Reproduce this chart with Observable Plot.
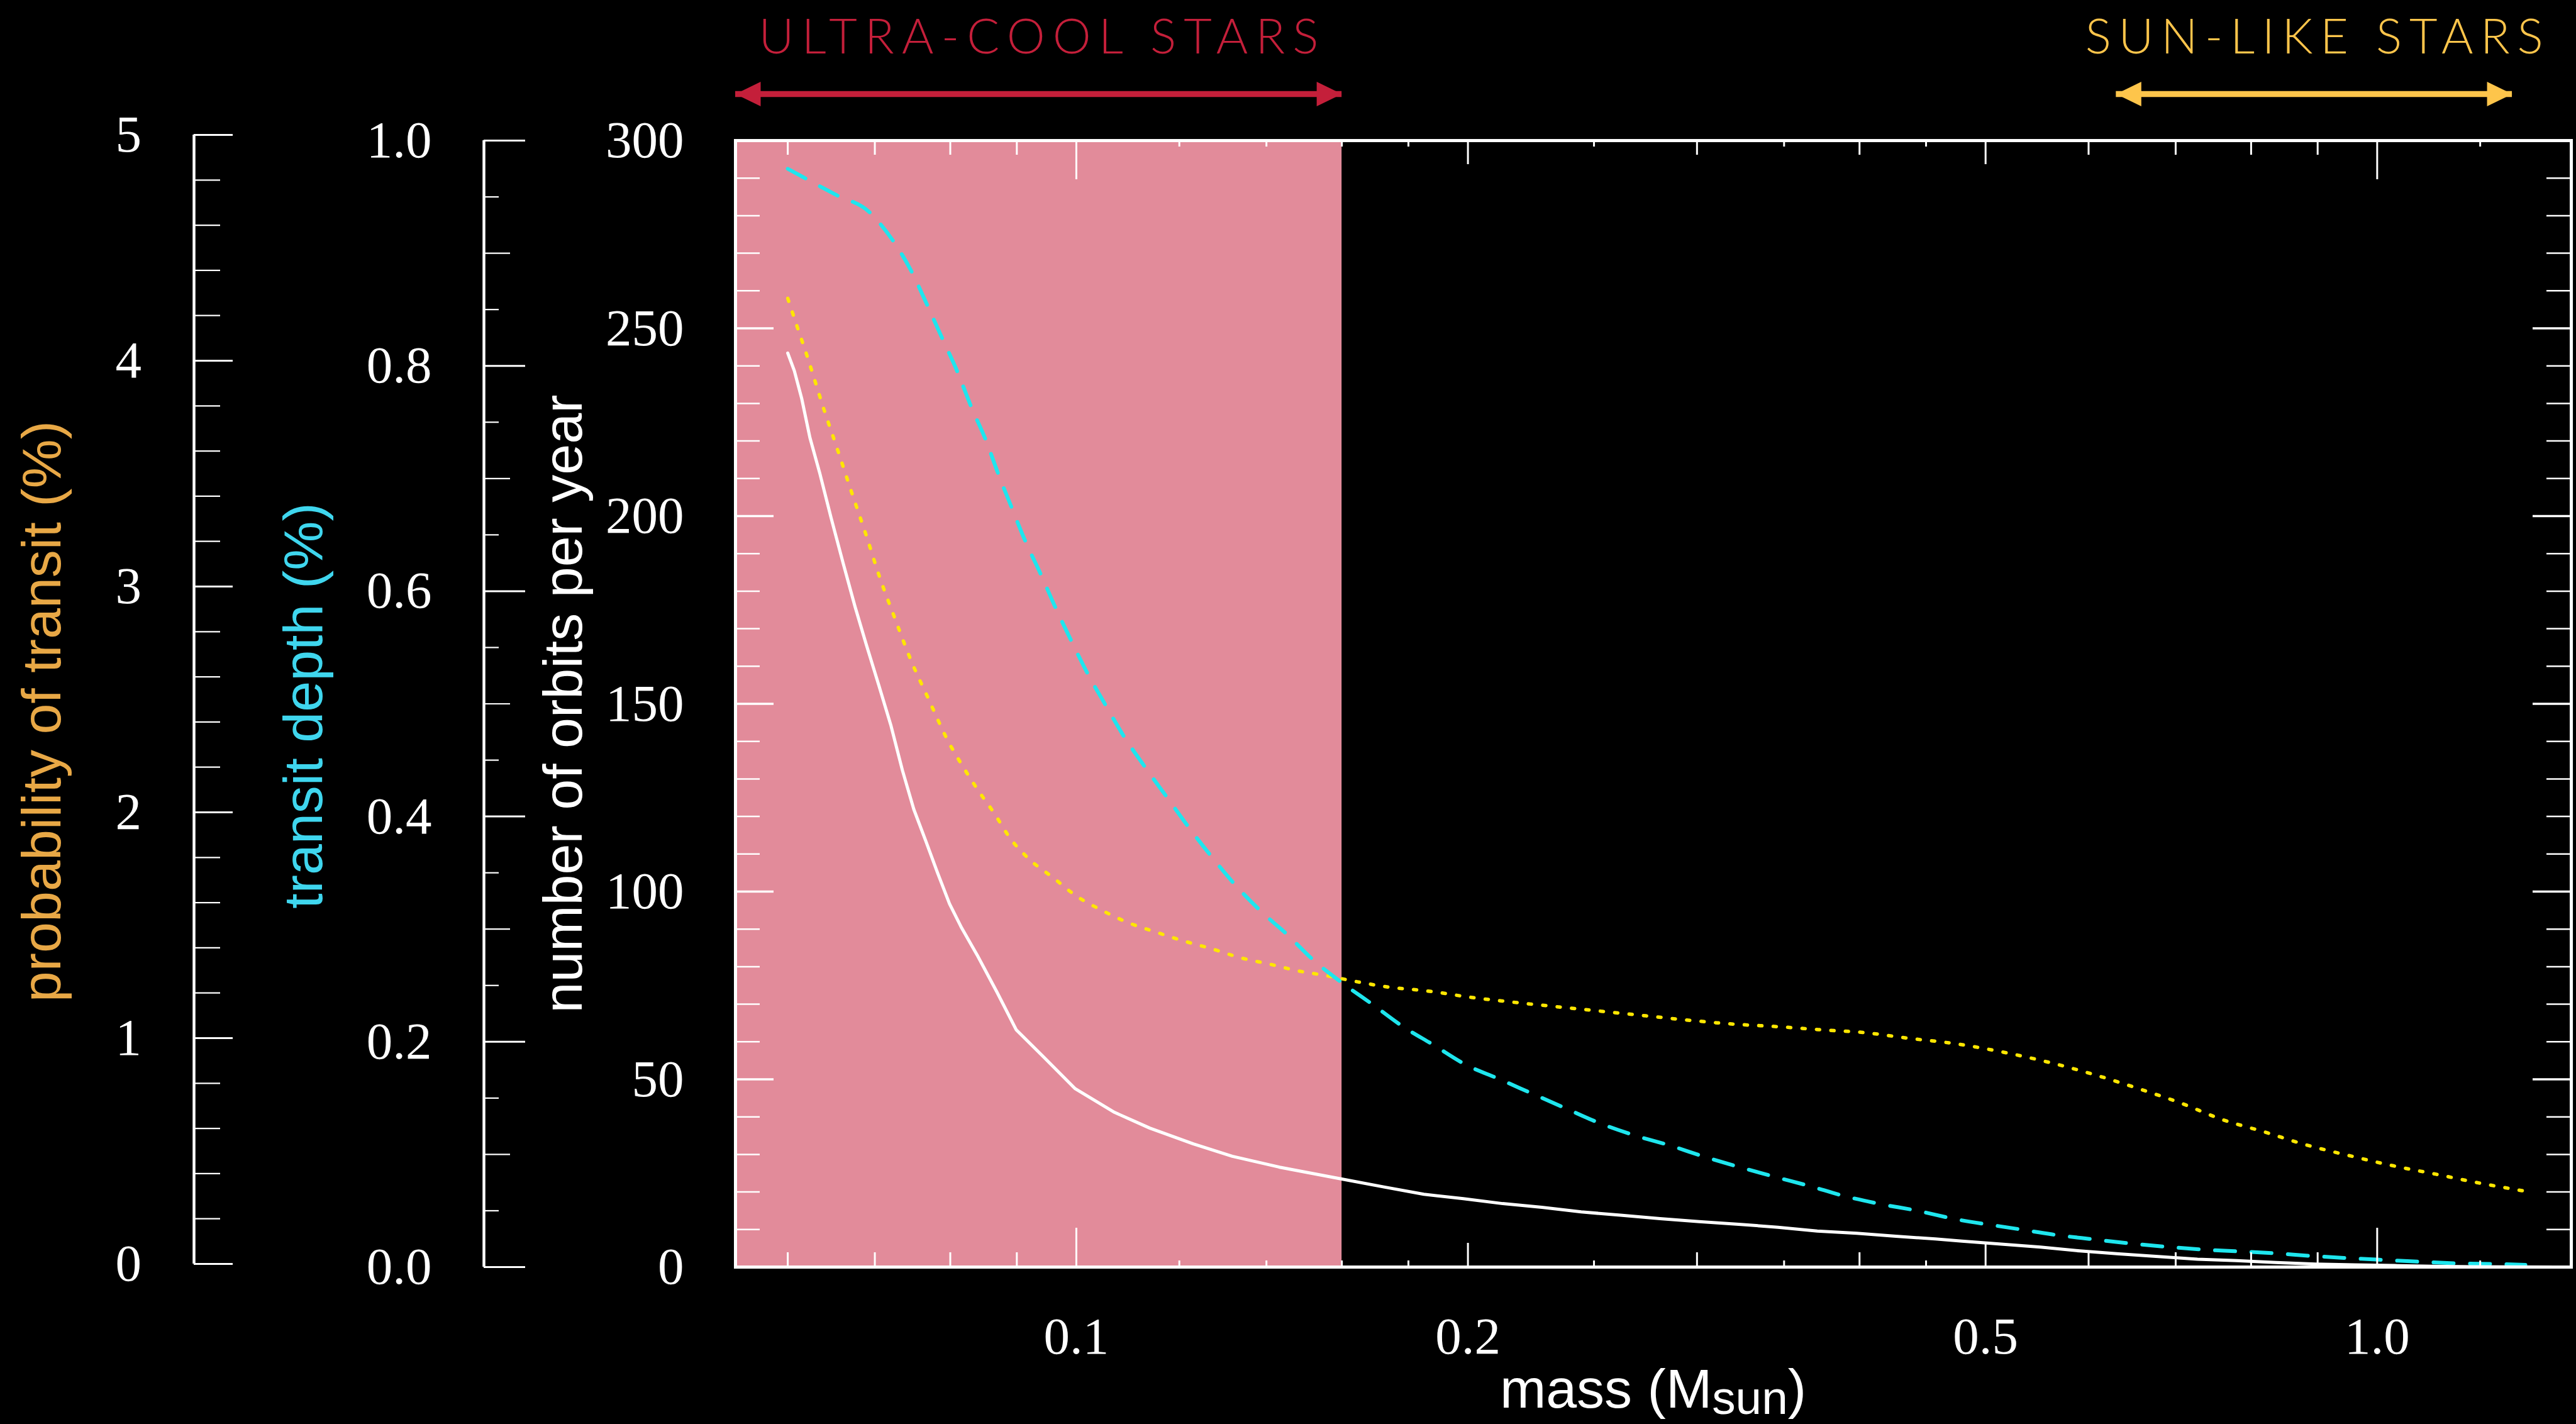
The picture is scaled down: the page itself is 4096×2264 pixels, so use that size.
<!DOCTYPE html>
<html>
<head>
<meta charset="utf-8">
<script src="https://cdn.jsdelivr.net/npm/d3@7"></script>
<script src="https://cdn.jsdelivr.net/npm/@observablehq/plot@0.6"></script>
<style>
  html, body { margin: 0; padding: 0; background: #000; }
  #chart { position: relative; width: 4096px; height: 2264px; overflow: hidden; background: #000; }
  #chart svg { position: absolute; top: 0; left: 0; }
  #xlabel { position: absolute; left: 1169px; width: 2919px; top: 2164px; text-align: center; color: #fff;
            font-family: "Liberation Sans", Arial, sans-serif; font-size: 88px; line-height: 88px; white-space: nowrap; }
  #xlabel span { font-size: 0.85em; position: relative; top: 0.14em; }
</style>
</head>
<body>
<div id="chart"><div id="xlabel">mass (M<span>sun</span>)</div></div>
<script>
// ---------------- DATA ----------------
// number of orbits per year (white solid)
const orbitsMass  = [0.0600,0.0607,0.0615,0.0624,0.0635,0.0648,0.0662,0.0676,0.0690,0.0705,0.0720,0.0735,0.0750,0.0766,0.0782,0.0799,0.0816,0.0839,0.0869,0.0899,0.0944,0.0998,0.1070,0.1139,0.1230,0.1318,0.1433,0.1602,0.1726,0.185,0.1984,0.2127,0.228,0.2444,0.262,0.281,0.3012,0.323,0.3462,0.3712,0.398,0.4266,0.4574,0.4795,0.514,0.551,0.5906,0.633,0.6788,0.7276,0.780,0.836,0.8966,0.961,1.031,1.105,1.185,1.27,1.40];
const orbitsValue = [243.4,238.7,231.3,220.9,211.4,199.4,187.3,175.8,165.4,154.9,144.4,132.3,121.9,113.5,105.1,96.7,90.4,83.1,73.2,63.2,55.9,47.5,41.2,37.0,32.8,29.5,26.6,23.4,21.3,19.4,18.2,16.9,15.9,14.7,13.8,12.9,12.1,11.4,10.6,9.6,9.0,8.2,7.5,6.9,6.1,5.3,4.3,3.5,2.8,2.1,1.7,1.2,0.8,0.6,0.4,0.2,0.1,0.05,0];

// transit depth in % (cyan dashed)
const depthMass  = [0.0600,0.0653,0.0694,0.0708,0.0722,0.0746,0.0768,0.0789,0.0810,0.0830,0.0852,0.0871,0.0892,0.0914,0.0939,0.0965,0.0992,0.1020,0.1053,0.1088,0.1129,0.1174,0.1219,0.1269,0.1323,0.1386,0.1453,0.1523,0.1602,0.169,0.178,0.1883,0.199,0.2113,0.2241,0.2377,0.2522,0.2685,0.2859,0.3038,0.3229,0.3445,0.366,0.3896,0.4148,0.4432,0.4718,0.528,0.5625,0.6008,0.642,0.6844,0.7303,0.780,0.834,0.887,0.948,1.012,1.0805,1.152,1.231,1.30];
const depthValue = [0.975,0.952,0.936,0.925,0.912,0.885,0.854,0.824,0.795,0.764,0.734,0.704,0.674,0.644,0.615,0.584,0.555,0.527,0.499,0.471,0.444,0.417,0.391,0.365,0.340,0.316,0.295,0.272,0.252,0.233,0.214,0.197,0.180,0.167,0.154,0.141,0.128,0.117,0.108,0.098,0.089,0.080,0.072,0.063,0.056,0.050,0.043,0.034,0.029,0.025,0.0213,0.0183,0.0157,0.014,0.0123,0.010,0.008,0.0063,0.0047,0.0033,0.0027,0.002];

// probability of transit in % (yellow dotted)
const probMass  = [0.0600,0.0610,0.0620,0.0640,0.0656,0.0672,0.0689,0.0706,0.0725,0.0746,0.0770,0.0796,0.0817,0.0840,0.0865,0.0889,0.0921,0.0960,0.1000,0.1045,0.1097,0.1151,0.1210,0.1272,0.1339,0.1407,0.148,0.1558,0.1638,0.1726,0.1864,0.2012,0.2172,0.2345,0.2537,0.2742,0.2965,0.3207,0.3462,0.3743,0.4045,0.4370,0.4718,0.5228,0.5646,0.6095,0.6555,0.7063,0.760,0.8189,0.8823,0.9511,1.028,1.110,1.198,1.296];
const probValue = [4.30,4.175,4.055,3.803,3.62,3.437,3.252,3.062,2.882,2.695,2.52,2.34,2.227,2.118,2.013,1.905,1.808,1.728,1.647,1.585,1.528,1.487,1.447,1.412,1.372,1.345,1.315,1.293,1.268,1.245,1.225,1.197,1.175,1.155,1.135,1.115,1.095,1.078,1.067,1.053,1.040,1.015,0.993,0.947,0.903,0.850,0.792,0.728,0.655,0.600,0.542,0.495,0.450,0.412,0.373,0.338];

// stellar-type ranges (mass)
const rangeLabels = ["ULTRA-COOL STARS", "SUN-LIKE STARS"];
const rangeLo = [0.0547, 0.63];
const rangeHi = [0.16, 1.27];

// scale domains
const massDomain  = [0.0547, 1.41];
const orbitsDomain = [0, 300];
const depthDomain  = [0, 1];
const probDomain   = [0, 5];

// ticks
const xTickLabels   = [0.1, 0.2, 0.5, 1.0];
const xTicksMajor   = [0.1, 1.0];
const xTicksSemi    = [0.2, 0.5];
const xTicksMedium  = [0.06, 0.07, 0.08, 0.09, 0.3, 0.4, 0.6, 0.7, 0.8, 0.9];
const xTicksShort   = [0.12, 0.14, 0.16, 0.18, 0.25, 0.35, 0.45, 1.2];
const orbitTicksMajor = [0, 50, 100, 150, 200, 250, 300];
const orbitTicksMinor = [10, 20, 30, 40, 60, 70, 80, 90, 110, 120, 130, 140, 160, 170, 180, 190, 210, 220, 230, 240, 260, 270, 280, 290];
const depthTicksMajor  = [0.0, 0.2, 0.4, 0.6, 0.8, 1.0];
const depthTicksMedium = [0.1, 0.3, 0.5, 0.7, 0.9];
const depthTicksShort  = [0.05, 0.15, 0.25, 0.35, 0.45, 0.55, 0.65, 0.75, 0.85, 0.95];
const probTicksMajor = [0, 1, 2, 3, 4, 5];
const probTicksMinor = [0.2, 0.4, 0.6, 0.8, 1.2, 1.4, 1.6, 1.8, 2.2, 2.4, 2.6, 2.8, 3.2, 3.4, 3.6, 3.8, 4.2, 4.4, 4.6, 4.8];

// ---------------- STYLE / LAYOUT ----------------
const W = 4096, H = 2264;
const WHITE = "#ffffff", PINK = "#e28b9a", CYAN = "#1ee6ee", YELLOW = "#ffe600";
const ORANGE = "#e8a846", CYAN_T = "#3fd6ee";
const rangeColors = ["#c41f3a", "#fec54b"];
const SERIF = "Liberation Serif, Times New Roman, serif";
const SANS = "Liberation Sans, Arial, sans-serif";
const svgStyle = {background: "transparent", color: "#fff", overflow: "visible"};

const mainM = {left: 1169, right: 8, top: 223, bottom: 250};
const frameW = W - mainM.left - mainM.right;
const frameH = H - mainM.top - mainM.bottom;

const orbits = orbitsMass.map((m, i) => ({m, v: orbitsValue[i]}));
const depth  = depthMass.map((m, i) => ({m, v: depthValue[i]}));
const prob   = probMass.map((m, i) => ({m, v: probValue[i]}));
const ranges = rangeLabels.map((label, i) => ({label, lo: rangeLo[i], hi: rangeHi[i]}));
const yTop = orbitsDomain[1];
const depthToY = orbitsDomain[1] / depthDomain[1];
const probToY  = orbitsDomain[1] / probDomain[1];

const headLeft  = {draw(ctx, size) { const L = Math.sqrt(size / Math.PI); ctx.moveTo(0, 0); ctx.lineTo(L, -0.49 * L); ctx.lineTo(L, 0.49 * L); ctx.closePath(); }};
const headRight = {draw(ctx, size) { const L = Math.sqrt(size / Math.PI); ctx.moveTo(0, 0); ctx.lineTo(-L, -0.49 * L); ctx.lineTo(-L, 0.49 * L); ctx.closePath(); }};

function xTickPair(ticks, len, sw) {
  return [
    Plot.ruleX(ticks, {insetTop: frameH - len, stroke: WHITE, strokeWidth: sw}),
    Plot.ruleX(ticks, {insetBottom: frameH - len, stroke: WHITE, strokeWidth: sw})
  ];
}
function yTickPair(ticks, len, sw) {
  return [
    Plot.ruleY(ticks, {insetRight: frameW - len, stroke: WHITE, strokeWidth: sw}),
    Plot.ruleY(ticks, {insetLeft: frameW - len, stroke: WHITE, strokeWidth: sw})
  ];
}

const rangeMarks = ranges.flatMap((r, i) => [
  Plot.ruleY([r], {x1: "lo", x2: "hi", y: () => yTop, dy: -74, stroke: rangeColors[i], strokeWidth: 9.5}),
  Plot.dot([r], {x: "lo", y: () => yTop, dy: -74, symbol: headLeft, r: 40, fill: rangeColors[i]}),
  Plot.dot([r], {x: "hi", y: () => yTop, dy: -74, symbol: headRight, r: 40, fill: rangeColors[i]}),
  Plot.text([r], {x: d => Math.sqrt(d.lo * d.hi), y: () => yTop, dy: -139, text: "label", lineAnchor: "bottom",
                  fontFamily: "Lato, Open Sans, sans-serif", fontWeight: 300, fontSize: 77, fill: rangeColors[i]})
]);

const main = Plot.plot({
  width: W, height: H,
  marginLeft: mainM.left, marginRight: mainM.right, marginTop: mainM.top, marginBottom: mainM.bottom,
  style: svgStyle,
  x: {type: "log", domain: massDomain, axis: null},
  y: {domain: orbitsDomain, axis: null},
  marks: [
    Plot.rect(ranges.slice(0, 1), {x1: "lo", x2: "hi", y1: () => orbitsDomain[0], y2: () => orbitsDomain[1], fill: PINK}),
    Plot.line(prob, {x: "m", y: d => d.v * probToY, stroke: YELLOW, strokeWidth: 5.5, strokeDasharray: "5,18", curve: "monotone-x"}),
    Plot.line(depth, {x: "m", y: d => d.v * depthToY, stroke: CYAN, strokeWidth: 6, strokeDasharray: "32,26", curve: "monotone-x"}),
    Plot.line(orbits, {x: "m", y: "v", stroke: WHITE, strokeWidth: 5, curve: "linear"}),
    ...yTickPair(orbitTicksMajor, 61, 3.5),
    ...yTickPair(orbitTicksMinor, 39, 2.5),
    ...xTickPair(xTicksMajor, 62, 3),
    ...xTickPair(xTicksSemi, 38, 3),
    ...xTickPair(xTicksMedium, 23, 3),
    ...xTickPair(xTicksShort, 10, 3),
    Plot.frame({stroke: WHITE, strokeWidth: 5}),
    Plot.text(orbitTicksMajor, {frameAnchor: "left", y: d => d, text: d => String(d), textAnchor: "end", dx: -82,
                                fontFamily: SERIF, fontSize: 83, fill: WHITE}),
    Plot.text(xTickLabels, {x: d => d, frameAnchor: "bottom", lineAnchor: "top", dy: 79, text: d => d3.format(".1f")(d),
                            fontFamily: SERIF, fontSize: 83, fill: WHITE}),
    Plot.text(["number of orbits per year"], {frameAnchor: "left", text: d => d, rotate: -90, dx: -273,
                                              textAnchor: "middle", lineAnchor: "middle",
                                              fontFamily: SANS, fontSize: 88, fill: WHITE}),
    ...rangeMarks
  ]
});

// spread range labels to their measured width in the reference
const rangeTextLength = [890, 728];
d3.select(main).selectAll("text").each(function() {
  const i = rangeLabels.indexOf(this.textContent);
  if (i >= 0) { this.setAttribute("textLength", rangeTextLength[i]); this.setAttribute("lengthAdjust", "spacing"); }
});

// transit depth axis
const depthLineX = 769, sideW = 80;
const depthAxis = Plot.plot({
  width: depthLineX + sideW, height: H,
  marginLeft: depthLineX, marginRight: 0, marginTop: mainM.top, marginBottom: mainM.bottom,
  style: svgStyle,
  x: {domain: [0, 1], axis: null},
  y: {domain: depthDomain, axis: null},
  marks: [
    Plot.ruleX([0], {stroke: WHITE, strokeWidth: 4.5}),
    Plot.ruleY(depthTicksMajor, {insetRight: sideW - 66, stroke: WHITE, strokeWidth: 3}),
    Plot.ruleY(depthTicksMedium, {insetRight: sideW - 42, stroke: WHITE, strokeWidth: 2.2}),
    Plot.ruleY(depthTicksShort, {insetRight: sideW - 24, stroke: WHITE, strokeWidth: 2.2}),
    Plot.text(depthTicksMajor, {frameAnchor: "left", y: d => d, text: d => d3.format(".1f")(d), textAnchor: "end", dx: -83,
                                fontFamily: SERIF, fontSize: 83, fill: WHITE}),
    Plot.text(["transit depth (%)"], {frameAnchor: "left", text: d => d, rotate: -90, dx: -286, dy: 3,
                                      textAnchor: "middle", lineAnchor: "middle",
                                      fontFamily: SANS, fontSize: 88, fill: CYAN_T})
  ]
});

// probability of transit axis
const probLineX = 308;
const probAxis = Plot.plot({
  width: probLineX + sideW, height: H,
  marginLeft: probLineX, marginRight: 0, marginTop: 214, marginBottom: H - 2009,
  style: svgStyle,
  x: {domain: [0, 1], axis: null},
  y: {domain: probDomain, axis: null},
  marks: [
    Plot.ruleX([0], {stroke: WHITE, strokeWidth: 4.5}),
    Plot.ruleY(probTicksMajor, {insetRight: sideW - 62, stroke: WHITE, strokeWidth: 3}),
    Plot.ruleY(probTicksMinor, {insetRight: sideW - 42, stroke: WHITE, strokeWidth: 2.2}),
    Plot.text(probTicksMajor, {frameAnchor: "left", y: d => d, text: d => String(d), textAnchor: "end", dx: -83.5,
                               fontFamily: SERIF, fontSize: 83, fill: WHITE}),
    Plot.text(["probability of transit (%)"], {frameAnchor: "left", text: d => d, rotate: -90, dx: -241, dy: 19,
                                               textAnchor: "middle", lineAnchor: "middle",
                                               fontFamily: SANS, fontSize: 88, fill: ORANGE})
  ]
});

const chart = document.getElementById("chart");
chart.insertBefore(main, chart.firstChild);
chart.appendChild(depthAxis);
chart.appendChild(probAxis);
</script>
</body>
</html>
